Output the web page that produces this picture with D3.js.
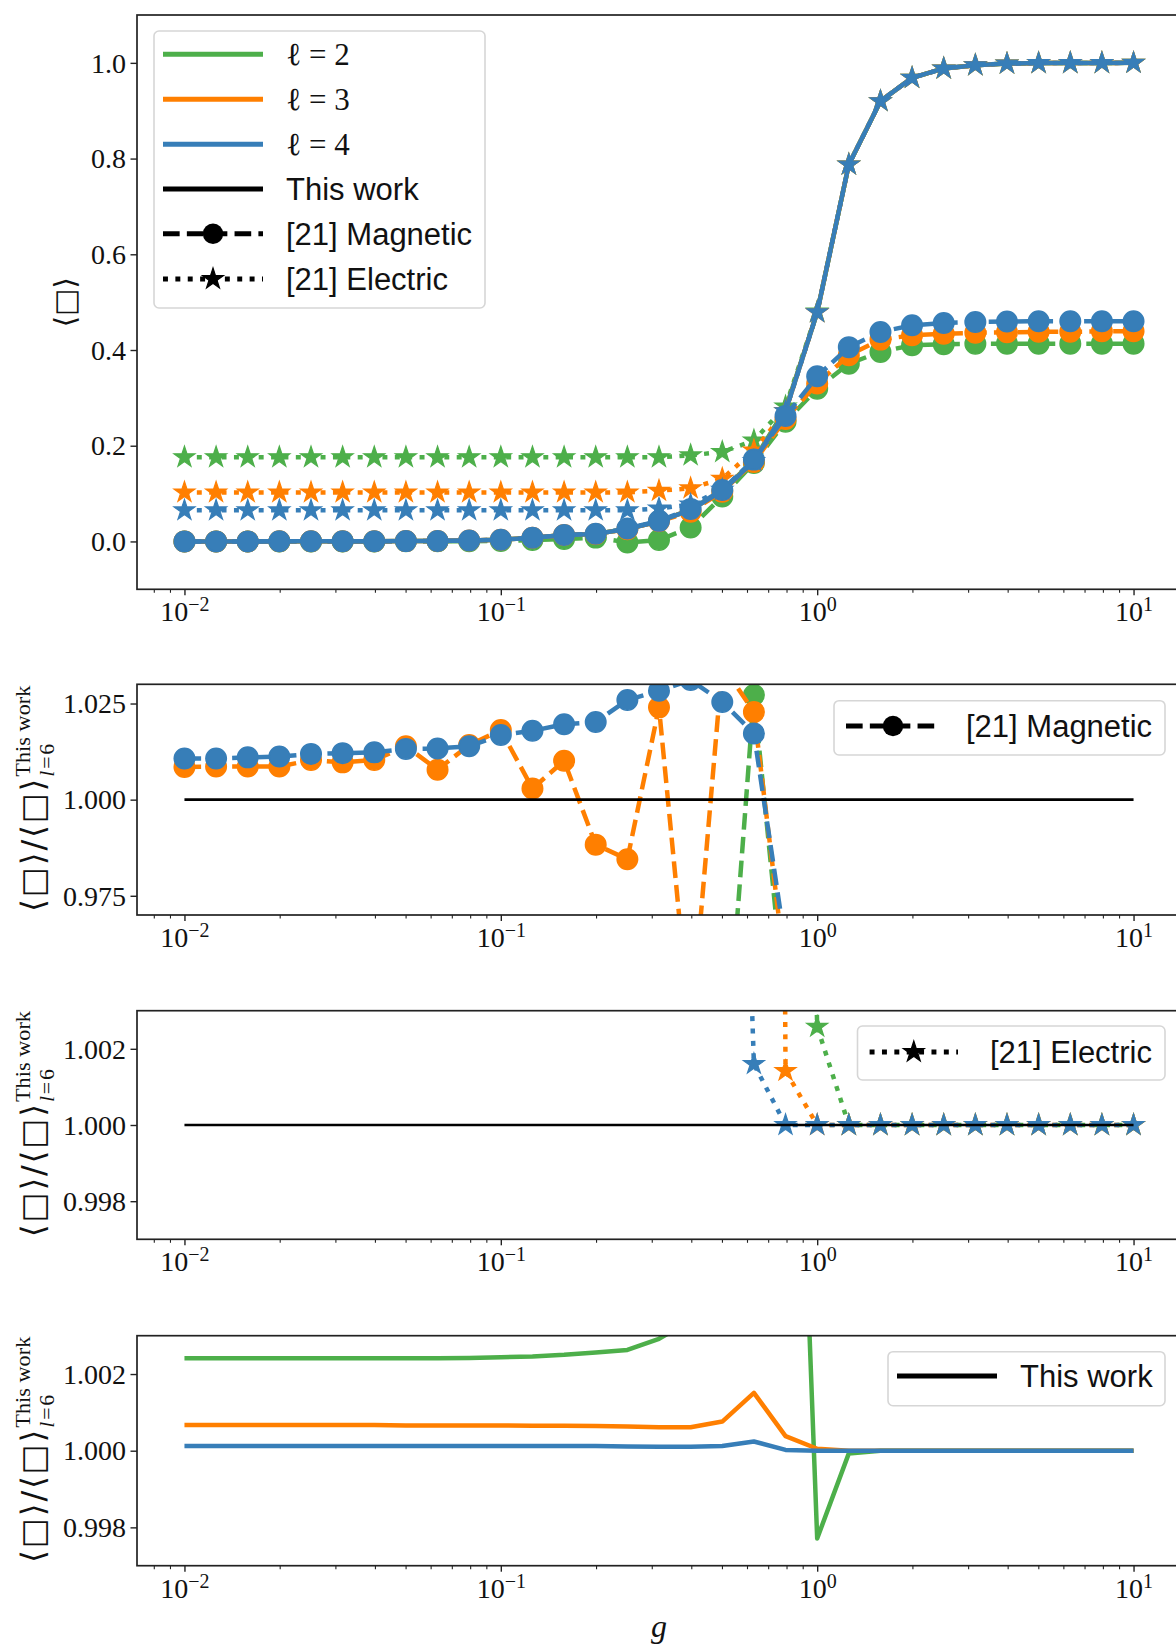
<!DOCTYPE html>
<html>
<head>
<meta charset="utf-8">
<script src="https://cdn.jsdelivr.net/npm/d3@7"></script>
<style>
  body { margin: 0; background: #fff; }
  svg { display: block; }
</style>
</head>
<body>
<svg id="chart" width="1176" height="1645"></svg>
<script>
// ---------------------------------------------------------------
// Coupling values g (log grid, 10 points per decade)
const gValues = [0.01, 0.01259, 0.01585, 0.01995, 0.02512, 0.03162, 0.03981, 0.05012, 0.06310, 0.07943,
                 0.1, 0.1259, 0.1585, 0.1995, 0.2512, 0.3162, 0.3981, 0.5012, 0.6310, 0.7943,
                 1.0, 1.259, 1.585, 1.995, 2.512, 3.162, 3.981, 5.012, 6.310, 7.943, 10.0];

const ellLabels = ["2", "3", "4"];
const seriesColors = ["#4daf4a", "#ff7f00", "#377eb8"];

// This work, truncation l = 6 (reference curve)
const thisWorkL6 = [0.0001, 0.0001, 0.0001, 0.0002, 0.0002, 0.0003, 0.0005, 0.0007, 0.0011, 0.0018,
                    0.0034, 0.0076, 0.0132, 0.0157, 0.0263, 0.0418, 0.0660, 0.1053, 0.1680, 0.2720,
                    0.4790, 0.7875, 0.9200, 0.9687, 0.9883, 0.9952, 0.9985, 0.9995, 0.9998, 0.9999, 1.0000];

// [21] Magnetic basis, plaquette expectation value
const magneticL2 = [0.0000, 0.0000, 0.0000, 0.0000, 0.0000, 0.0001, 0.0001, 0.0002, 0.0003, 0.0004,
                    0.0010, 0.0030, 0.0050, 0.0080, -0.0020, 0.0030, 0.0290, 0.0940, 0.1640, 0.2500,
                    0.3190, 0.3715, 0.3960, 0.4100, 0.4120, 0.4130, 0.4133, 0.4133, 0.4133, 0.4133, 0.4133];
const magneticL3 = [0.0001, 0.0001, 0.0001, 0.0002, 0.0002, 0.0003, 0.0005, 0.0007, 0.0011, 0.0018,
                    0.0035, 0.0076, 0.0133, 0.0155, 0.0255, 0.0420, 0.0620, 0.1040, 0.1660, 0.2560,
                    0.3300, 0.3890, 0.4217, 0.4307, 0.4340, 0.4360, 0.4370, 0.4380, 0.4380, 0.4390, 0.4390];
const magneticL4 = [0.0001, 0.0001, 0.0001, 0.0002, 0.0002, 0.0003, 0.0005, 0.0007, 0.0011, 0.0018,
                    0.0035, 0.0077, 0.0135, 0.0160, 0.0270, 0.0430, 0.0680, 0.1075, 0.1710, 0.2620,
                    0.3450, 0.4060, 0.4377, 0.4516, 0.4565, 0.4585, 0.4595, 0.4600, 0.4600, 0.4600, 0.4600];

// [21] Electric basis, plaquette expectation value
const electricL2 = [0.176, 0.176, 0.176, 0.176, 0.176, 0.176, 0.176, 0.176, 0.176, 0.176,
                    0.176, 0.176, 0.176, 0.176, 0.176, 0.176, 0.180, 0.187, 0.211, 0.282,
                    0.4802, 0.7875, 0.9200, 0.9687, 0.9883, 0.9952, 0.9985, 0.9995, 0.9998, 0.9999, 1.0000];
const electricL3 = [0.1025, 0.1025, 0.1025, 0.1025, 0.1025, 0.1025, 0.1025, 0.1025, 0.1025, 0.1025,
                    0.1025, 0.1025, 0.1025, 0.1025, 0.1025, 0.1060, 0.1110, 0.1310, 0.1900, 0.2724,
                    0.4790, 0.7875, 0.9200, 0.9687, 0.9883, 0.9952, 0.9985, 0.9995, 0.9998, 0.9999, 1.0000];
const electricL4 = [0.065, 0.065, 0.065, 0.065, 0.065, 0.065, 0.065, 0.065, 0.065, 0.065,
                    0.065, 0.065, 0.065, 0.065, 0.065, 0.069, 0.077, 0.108, 0.1683, 0.2720,
                    0.4790, 0.7875, 0.9200, 0.9687, 0.9883, 0.9952, 0.9985, 0.9995, 0.9998, 0.9999, 1.0000];

// Ratio [21] Magnetic / This work (l = 6)
const magRatioL2 = [0.30, 0.30, 0.30, 0.30, 0.30, 0.30, 0.30, 0.30, 0.30, 0.30,
                    0.30, 0.39, 0.38, 0.51, -0.08, 0.07, 0.44, 0.9175, 1.0272, 0.945,
                    0.666, 0.472, 0.430, 0.423, 0.417, 0.415, 0.414, 0.413, 0.413, 0.413, 0.413];
const magRatioL3 = [1.0085, 1.0086, 1.0086, 1.0086, 1.0103, 1.0097, 1.0103, 1.0139, 1.0078, 1.0142,
                    1.0181, 1.0029, 1.0101, 0.9883, 0.9845, 1.0240, 0.9390, 1.0350, 1.0228, 0.955,
                    0.689, 0.494, 0.458, 0.445, 0.439, 0.438, 0.438, 0.438, 0.438, 0.439, 0.439];
const magRatioL4 = [1.0107, 1.0107, 1.0110, 1.0112, 1.0119, 1.0121, 1.0123, 1.0132, 1.0133, 1.0139,
                    1.0168, 1.0179, 1.0196, 1.0202, 1.0259, 1.0283, 1.0311, 1.0254, 1.0172, 0.962,
                    0.720, 0.516, 0.476, 0.466, 0.462, 0.4607, 0.4601, 0.4600, 0.4600, 0.4600, 0.4600];

// Ratio [21] Electric / This work (l = 6)
const elecRatioL2 = [1760, 1760, 1760, 880, 880, 587, 352, 251, 160, 98,
                     52, 23, 13.3, 11.2, 6.7, 4.2, 2.73, 1.78, 1.256, 1.037,
                     1.00258, 1.0, 1.0, 1.0, 1.0, 1.0, 1.0, 1.0, 1.0, 1.0, 1.0];
const elecRatioL3 = [1025, 1025, 1025, 512, 512, 342, 205, 146, 93, 57,
                     30, 13.5, 7.7, 6.5, 3.9, 2.54, 1.68, 1.24, 1.13, 1.00142,
                     1.0, 1.0, 1.0, 1.0, 1.0, 1.0, 1.0, 1.0, 1.0, 1.0, 1.0];
const elecRatioL4 = [650, 650, 650, 325, 325, 217, 130, 93, 59, 36,
                     19, 8.6, 4.9, 4.1, 2.5, 1.65, 1.17, 1.026, 1.0016, 1.0,
                     1.0, 1.0, 1.0, 1.0, 1.0, 1.0, 1.0, 1.0, 1.0, 1.0, 1.0];

// Ratio This work (l) / This work (l = 6)
const twRatioL2 = [1.00241, 1.00241, 1.00241, 1.00241, 1.00241, 1.00241, 1.00241, 1.00241, 1.00241, 1.00242,
                   1.00244, 1.00246, 1.00250, 1.00256, 1.00263, 1.00292, 1.00340, 1.00600, 1.01100, 1.01970,
                   0.99771, 0.99993, 1.0, 1.0, 1.0, 1.0, 1.0, 1.0, 1.0, 1.0, 1.0];
const twRatioL3 = [1.00067, 1.00067, 1.00067, 1.00067, 1.00067, 1.00067, 1.00067, 1.00066, 1.00066, 1.00066,
                   1.00066, 1.00065, 1.00065, 1.000645, 1.00063, 1.00061, 1.00061, 1.00076, 1.00151, 1.00038,
                   1.00005, 1.0, 1.0, 1.0, 1.0, 1.0, 1.0, 1.0, 1.0, 1.0, 1.0];
const twRatioL4 = [1.00012, 1.00012, 1.00012, 1.00012, 1.00012, 1.00012, 1.00012, 1.00012, 1.00012, 1.00012,
                   1.00012, 1.00012, 1.00012, 1.00012, 1.00011, 1.00010, 1.00010, 1.00012, 1.00024, 1.00002,
                   1.0, 1.0, 1.0, 1.0, 1.0, 1.0, 1.0, 1.0, 1.0, 1.0, 1.0];

// Axis ticks
const xMajorTicks = [0.01, 0.1, 1, 10];
const xMajorExponents = ["\u22122", "\u22121", "0", "1"];
const xMinorTicks = [0.008, 0.009, 0.02, 0.03, 0.04, 0.05, 0.06, 0.07, 0.08, 0.09,
                     0.2, 0.3, 0.4, 0.5, 0.6, 0.7, 0.8, 0.9, 2, 3, 4, 5, 6, 7, 8, 9];
const yTicksValue = [0.0, 0.2, 0.4, 0.6, 0.8, 1.0];
const yTicksMagnetic = [0.975, 1.000, 1.025];
const yTicksNarrow = [0.998, 1.000, 1.002];

// ---------------------------------------------------------------
const svg = d3.select("#chart");
const SERIF = "'Liberation Serif', 'DejaVu Serif', serif";
const SANS = "'Liberation Sans', Arial, sans-serif";
const MATH = "'DejaVu Sans', 'DejaVu Serif', sans-serif";
const LW = 4.5;
const DASH = [3.7 * LW, 1.6 * LW].join(",");
const DOT = [1.1 * LW, 1.65 * LW].join(",");

const left = 137, right = 1181;
const x = d3.scaleLog().domain([Math.pow(10, -2.15), Math.pow(10, 1.15)]).range([left, right]);

const panels = [
  { top: 15, bottom: 589.3, domain: [-0.1, 1.1], ticks: yTicksValue, fmt: d3.format(".1f") },
  { top: 684.3, bottom: 915, domain: [0.97, 1.03], ticks: yTicksMagnetic, fmt: d3.format(".3f") },
  { top: 1010.7, bottom: 1239.3, domain: [0.997, 1.003], ticks: yTicksNarrow, fmt: d3.format(".3f") },
  { top: 1335.7, bottom: 1565.7, domain: [0.997, 1.003], ticks: yTicksNarrow, fmt: d3.format(".3f") }
];

const defs = svg.append("defs");

panels.forEach((p, i) => {
  p.y = d3.scaleLinear().domain(p.domain).range([p.bottom, p.top]);
  p.clipId = "clip" + i;
  defs.append("clipPath").attr("id", p.clipId)
    .append("rect").attr("x", left).attr("y", p.top)
    .attr("width", right - left).attr("height", p.bottom - p.top);
  p.g = svg.append("g");
  p.plot = p.g.append("g").attr("clip-path", `url(#${p.clipId})`);
});

function toPoints(vals) { return vals.map((v, i) => ({ g: gValues[i], v })); }

// Screen y, kept within a generous band around the panel so very large
// off-scale ratios do not produce extreme path coordinates.
function yPix(p, v) {
  const far = 20000;
  return Math.max(p.top - far, Math.min(p.bottom + far, p.y(v)));
}

function drawLine(p, vals, color, dash, width) {
  const line = d3.line().x(d => x(d.g)).y(d => yPix(p, d.v));
  p.plot.append("path")
    .attr("d", line(toPoints(vals)))
    .attr("fill", "none")
    .attr("stroke", color)
    .attr("stroke-width", width || LW)
    .attr("stroke-dasharray", dash || null)
    .attr("stroke-linejoin", "round");
}

const starSym = d3.symbol().type(d3.symbolStar).size(136);
const circleR = 10.2;

function drawMarkers(p, vals, color, kind) {
  const pts = toPoints(vals).filter(d => p.y(d.v) > p.top - 30 && p.y(d.v) < p.bottom + 30);
  if (kind === "circle") {
    p.plot.append("g").selectAll("circle").data(pts).join("circle")
      .attr("cx", d => x(d.g)).attr("cy", d => p.y(d.v)).attr("r", circleR)
      .attr("fill", color).attr("stroke", color).attr("stroke-width", 1.6);
  } else {
    p.plot.append("g").selectAll("path").data(pts).join("path")
      .attr("d", starSym)
      .attr("transform", d => `translate(${x(d.g)},${p.y(d.v)})`)
      .attr("fill", color).attr("stroke", color).attr("stroke-width", 1.2)
      .attr("stroke-linejoin", "miter");
  }
}

// reference line at 1 spans the full g range
function drawUnitLine(p) {
  p.plot.append("line")
    .attr("x1", x(gValues[0])).attr("x2", x(gValues[gValues.length - 1]))
    .attr("y1", p.y(1)).attr("y2", p.y(1))
    .attr("stroke", "#000").attr("stroke-width", 2.6);
}

const magneticSets = [magneticL2, magneticL3, magneticL4];
const electricSets = [electricL2, electricL3, electricL4];
const twRatioSets = [twRatioL2, twRatioL3, twRatioL4];
const magRatioSets = [magRatioL2, magRatioL3, magRatioL4];
const elecRatioSets = [elecRatioL2, elecRatioL3, elecRatioL4];

// ---------------- Panel 1: expectation values ----------------
{
  const p = panels[0];
  ellLabels.forEach((ell, s) => {
    const c = seriesColors[s];
    const thisWork = thisWorkL6.map((v, i) => v * twRatioSets[s][i]);
    drawLine(p, thisWork, c);
    drawLine(p, electricSets[s], c, DOT);
    drawMarkers(p, electricSets[s], c, "star");
    drawLine(p, magneticSets[s], c, DASH);
    drawMarkers(p, magneticSets[s], c, "circle");
  });
}

// ---------------- Panel 2: magnetic ratio ----------------
{
  const p = panels[1];
  ellLabels.forEach((ell, s) => {
    const c = seriesColors[s];
    drawLine(p, magRatioSets[s], c, DASH);
    drawMarkers(p, magRatioSets[s], c, "circle");
  });
  drawUnitLine(p);
}

// ---------------- Panel 3: electric ratio ----------------
{
  const p = panels[2];
  ellLabels.forEach((ell, s) => {
    const c = seriesColors[s];
    drawLine(p, elecRatioSets[s], c, DOT);
    drawMarkers(p, elecRatioSets[s], c, "star");
  });
  drawUnitLine(p);
}

// ---------------- Panel 4: this work ratio ----------------
{
  const p = panels[3];
  ellLabels.forEach((ell, s) => {
    drawLine(p, twRatioSets[s], seriesColors[s]);
  });
}

// ---------------- Axes ----------------
panels.forEach((p, i) => {
  const ya = p.g.append("g").attr("transform", `translate(${left},0)`)
    .call(d3.axisLeft(p.y).tickValues(p.ticks).tickFormat(p.fmt).tickSize(6.5).tickPadding(4.5));
  ya.select(".domain").remove();
  ya.selectAll(".tick line").attr("stroke", "#222").attr("stroke-width", 1.4);
  ya.selectAll(".tick text").attr("font-family", SERIF).attr("font-size", 28).attr("fill", "#111")
    .attr("dy", "0.33em");

  const xm = p.g.append("g").attr("transform", `translate(0,${p.bottom})`)
    .call(d3.axisBottom(x).tickValues(xMinorTicks).tickFormat("").tickSize(3.5));
  xm.select(".domain").remove();
  xm.selectAll(".tick line").attr("stroke", "#222").attr("stroke-width", 1.1);

  const xa = p.g.append("g").attr("transform", `translate(0,${p.bottom})`)
    .call(d3.axisBottom(x).tickValues(xMajorTicks).tickFormat("").tickSize(6));
  xa.select(".domain").remove();
  xa.selectAll(".tick line").attr("stroke", "#222").attr("stroke-width", 1.4);
  xa.selectAll(".tick text").each(function (d, k) {
    const t = d3.select(this)
      .attr("y", 32).attr("dy", null)
      .attr("font-family", SERIF).attr("font-size", 28).attr("fill", "#111")
      .attr("text-anchor", "middle");
    t.text(null);
    t.append("tspan").text("10");
    t.append("tspan").attr("dy", -10).attr("font-size", 20).text(xMajorExponents[k]);
  });

  p.g.append("rect")
    .attr("x", left).attr("y", p.top)
    .attr("width", right - left).attr("height", p.bottom - p.top)
    .attr("fill", "none").attr("stroke", "#222").attr("stroke-width", 1.7);
});

// ---------------- Axis titles ----------------
{
  const p = panels[0];
  const g = svg.append("g").attr("transform", `translate(75,${(p.top + p.bottom) / 2}) rotate(-90)`);
  g.append("text").attr("text-anchor", "middle").attr("font-family", MATH)
    .attr("font-size", 29).attr("fill", "#111")
    .text("\u27E8\u25A1\u27E9");
}

// rotated title: main ratio, then "This work" above and "l=6" below, stacked
function ratioTitle(p) {
  const g = svg.append("g").attr("transform", `translate(44,${(p.top + p.bottom) / 2}) rotate(-90)`);
  g.append("text").attr("x", -112).attr("y", 0)
    .attr("font-family", MATH).attr("font-size", 32).attr("fill", "#111")
    .attr("textLength", 133).attr("lengthAdjust", "spacing")
    .text("\u27E8\u25A1\u27E9/\u27E8\u25A1\u27E9");
  g.append("text").attr("x", 23).attr("y", -14)
    .attr("font-family", SERIF).attr("font-size", 22).attr("fill", "#111")
    .attr("textLength", 91).attr("lengthAdjust", "spacingAndGlyphs")
    .text("This work");
  const sub = g.append("text").attr("x", 23).attr("y", 10)
    .attr("font-family", SERIF).attr("font-size", 22).attr("fill", "#111")
    .attr("textLength", 33).attr("lengthAdjust", "spacing");
  sub.append("tspan").attr("font-style", "italic").text("l");
  sub.append("tspan").text("=6");
}
ratioTitle(panels[1]);
ratioTitle(panels[2]);
ratioTitle(panels[3]);

svg.append("text").attr("x", (left + right) / 2).attr("y", 1637)
  .attr("text-anchor", "middle").attr("font-family", SERIF).attr("font-style", "italic")
  .attr("font-size", 32).attr("fill", "#111").text("g");

// ---------------- Legends ----------------
function legendBox(x0, y0, x1, y1) {
  svg.append("rect").attr("x", x0).attr("y", y0).attr("width", x1 - x0).attr("height", y1 - y0)
    .attr("rx", 5).attr("ry", 5)
    .attr("fill", "#fff").attr("fill-opacity", 0.8)
    .attr("stroke", "#d6d6d6").attr("stroke-width", 1.6);
}

function legendHandle(x0, x1, y, color, dash, marker) {
  svg.append("line").attr("x1", x0).attr("x2", x1).attr("y1", y).attr("y2", y)
    .attr("stroke", color).attr("stroke-width", 5).attr("stroke-dasharray", dash || null);
  const cx = (x0 + x1) / 2;
  if (marker === "circle") {
    svg.append("circle").attr("cx", cx).attr("cy", y).attr("r", circleR).attr("fill", color);
  } else if (marker === "star") {
    svg.append("path").attr("d", starSym).attr("transform", `translate(${cx},${y})`)
      .attr("fill", color).attr("stroke", color).attr("stroke-width", 1.2);
  }
}

function legendText(x0, y, parts) {
  const t = svg.append("text").attr("x", x0).attr("y", y + 11).attr("fill", "#111");
  parts.forEach(pt => {
    const s = t.append("tspan").text(pt.text)
      .attr("font-family", pt.font).attr("font-size", pt.size || 31);
    if (pt.italic) s.attr("font-style", "italic");
  });
}

{
  legendBox(154, 31, 485, 308);
  const rows = [54.3, 99.3, 144.3, 189, 233.8, 279];
  ellLabels.forEach((ell, s) => {
    legendHandle(163, 263, rows[s], seriesColors[s], null, null);
    legendText(286, rows[s], [
      { text: "\u2113", font: SERIF, size: 32 },
      { text: " = " + ell, font: SERIF, size: 31 }
    ]);
  });
  legendHandle(163, 263, rows[3], "#000", null, null);
  legendText(286, rows[3], [{ text: "This work", font: SANS }]);
  legendHandle(163, 263, rows[4], "#000", DASH, "circle");
  legendText(286, rows[4], [{ text: "[21] Magnetic", font: SANS }]);
  legendHandle(163, 263, rows[5], "#000", DOT, "star");
  legendText(286, rows[5], [{ text: "[21] Electric", font: SANS }]);
}
{
  legendBox(834, 700.7, 1165, 755);
  legendHandle(846, 940, 726, "#000", DASH, "circle");
  legendText(966, 726, [{ text: "[21] Magnetic", font: SANS }]);
}
{
  legendBox(857.5, 1026, 1165, 1080);
  legendHandle(869.6, 958, 1052, "#000", DOT, "star");
  legendText(990, 1052, [{ text: "[21] Electric", font: SANS }]);
}
{
  legendBox(888, 1351.7, 1165, 1405.7);
  legendHandle(897, 997, 1376, "#000", null, null);
  legendText(1020, 1376, [{ text: "This work", font: SANS }]);
}
</script>
</body>
</html>
